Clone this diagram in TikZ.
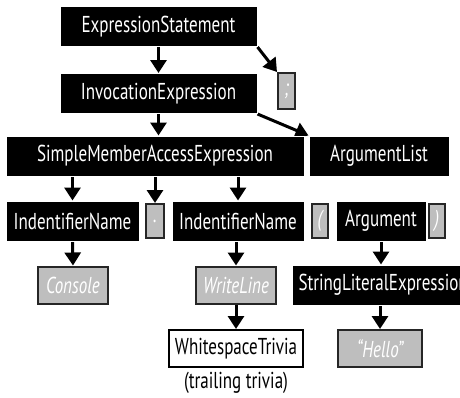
\documentclass[tikz,border=0pt]{standalone}
\usepackage{fontspec}
\setmainfont{PT Sans}[FakeStretch=0.74]
\usepackage{tikz}
\usetikzlibrary{positioning,arrows.meta,backgrounds}
\definecolor{tokgray}{RGB}{190,190,190}

\begin{document}
\begin{tikzpicture}[x=1pt,y=-1pt,>={Triangle[width=16pt,length=13pt]},
  every node/.style={font=\fontsize{23}{26}\selectfont,inner sep=0pt},
  kind/.style={fill=black,text=white,draw=white,line width=1pt,minimum height=40pt},
  tok/.style={fill=tokgray,draw=black!85,line width=2pt,text=white,font=\fontsize{23}{26}\selectfont\itshape,minimum height=37pt},
  triv/.style={fill=white,draw=black,line width=2pt,minimum height=37pt},
  link/.style={->,line width=3pt}]
\useasboundingbox (0,0) rectangle (460,397);
% syntax nodes
\node[kind,minimum width=197pt] (exprstmt) at (158.5,26.5) {ExpressionStatement};
\node[kind,minimum width=197pt] (invoc) at (158.5,93.5) {InvocationExpression};
\node[tok,minimum width=17pt,minimum height=36pt] (semi) at (286.5,91) {;};
\node[kind,minimum width=298pt] (memberacc) at (155,156) {SimpleMemberAccessExpression};
\node[kind,minimum width=140pt] (arglist) at (379,156) {ArgumentList};
\node[kind,minimum width=133pt] (identA) at (72.5,221) {IndentifierName};
\node[tok,minimum width=18pt,minimum height=34pt] (dot) at (155,221) {.};
\node[kind,minimum width=132pt] (identB) at (238,221) {IndentifierName};
\node[tok,minimum width=16pt,minimum height=34pt] (lparen) at (320,221) {(};
\node[kind,minimum width=90pt] (arg) at (381,221) {Argument};
\node[tok,minimum width=16pt,minimum height=34pt] (rparen) at (437,221) {)};
% tokens and trivia
\node[tok,minimum width=70pt] (console) at (73,285) {Console};
\node[tok,minimum width=80pt] (writeline) at (236,285) {WriteLine};
\node[kind,anchor=west,inner xsep=6pt] (strlit) at (292,285) {StringLiteralExpression};
\node[triv,minimum width=134pt] (wstrivia) at (236,348.5) {WhitespaceTrivia};
\node[tok,minimum width=84pt] (hello) at (380,348.5) {“Hello”};
\node (trailing) at (236,383) {(trailing trivia)};
\begin{scope}[on background layer]
\draw[link] (exprstmt.south) -- (invoc.north);
\draw[link] (exprstmt.south east) -- (semi.north west);
\draw[link] (invoc.south) -- (invoc.south |- memberacc.north);
\draw[link] (invoc.south east) -- (arglist.north west);
\draw[link] (identA.north |- memberacc.south) -- (identA.north);
\draw[link] (dot.north |- memberacc.south) -- (dot.north);
\draw[link] (identB.north |- memberacc.south) -- (identB.north);
\draw[link] (identA.south) -- (console.north);
\draw[link] (writeline.north |- identB.south) -- (writeline.north);
\draw[link] (arg.south) -- (arg.south |- strlit.north);
\draw[link] (writeline.south) -- (wstrivia.north);
\draw[link] (hello.north |- strlit.south) -- (hello.north);
\end{scope}
\end{tikzpicture}
\end{document}
